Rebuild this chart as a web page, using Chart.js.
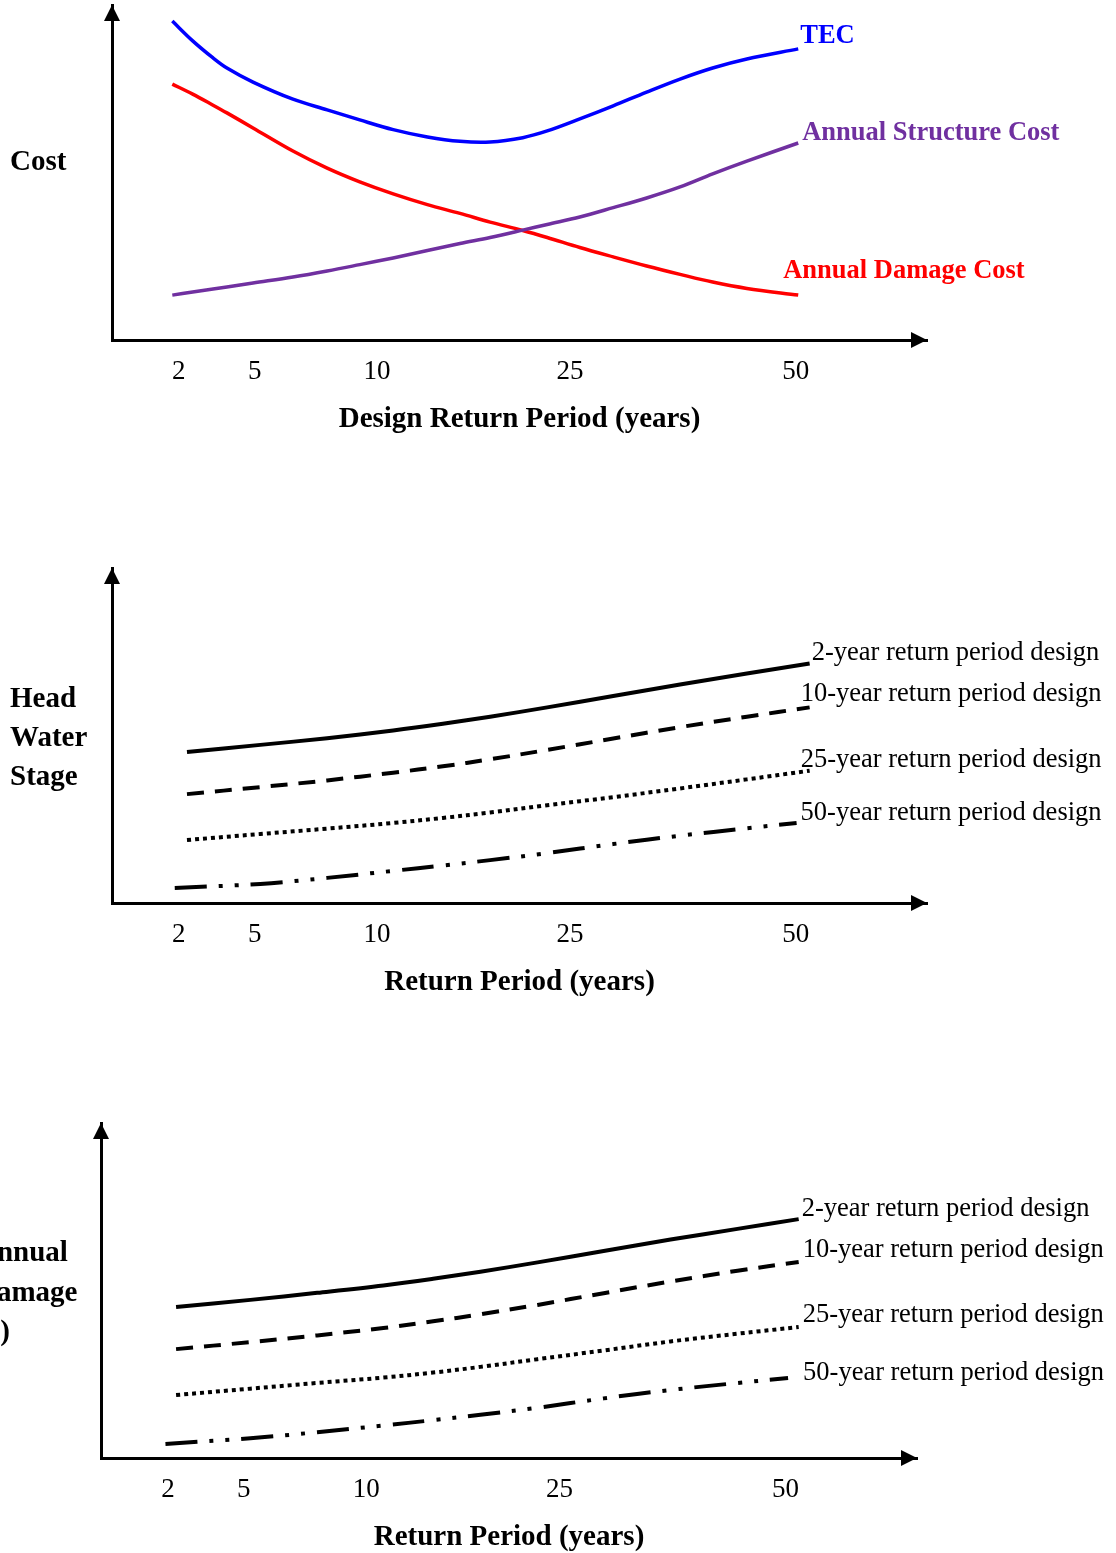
<!DOCTYPE html>
<html>
<head>
<meta charset="utf-8">
<script src="https://cdn.jsdelivr.net/npm/chart.js@4.4.1/dist/chart.umd.min.js"></script>
<style>
  html, body { margin: 0; padding: 0; background: #fff; overflow: hidden; }
  body { width: 1116px; height: 1553px; position: relative; font-family: "Liberation Serif", "Times New Roman", serif; }
  .panel { position: absolute; left: 0; width: 1116px; }
  .panel canvas { display: block; }
  .ylab { position: absolute; font-weight: bold; font-size: 29px; line-height: 39px; color: #000; white-space: nowrap; }
</style>
</head>
<body>
<div class="panel" style="top:0;height:435px"><canvas id="costChart" width="1116" height="435"></canvas></div>
<div class="panel" style="top:560px;height:438px"><canvas id="stageChart" width="1116" height="438"></canvas></div>
<div class="panel" style="top:1116px;height:437px"><canvas id="damageChart" width="1116" height="437"></canvas></div>

<div class="ylab" style="left:10px;top:141px">Cost</div>
<div class="ylab" style="left:10px;top:678px">Head<br>Water<br>Stage</div>
<div class="ylab" style="left:-24px;top:1232px;line-height:39.5px">Annual<br>Damage<br>($)</div>

<script>
// x axis is schematic: return periods sit at fixed spots along the axis (0-100 units)
const periodTicks = ['2', '5', '10', '25', '50'];
const periodAt = [8.2, 17.5, 32.5, 56.2, 83.9];

// top chart: cost vs design return period
const costX = [7.4, 9.9, 12.4, 14.1, 17.3, 22.2, 26.4, 30.4, 34.5, 38.7, 42.7, 46.4, 50.4, 53.4, 57.4, 61.5, 65.6, 69.7, 73.7, 77.9, 84.2];
const tecCost = [95.2, 89.3, 84.2, 81.2, 77.0, 71.9, 68.7, 65.7, 62.8, 60.6, 59.3, 59.1, 60.4, 62.4, 66.0, 69.9, 74.0, 77.9, 81.2, 83.9, 86.9];
const structureCost = [13.4, 14.3, 15.2, 15.8, 17.0, 18.8, 20.6, 22.5, 24.5, 26.7, 28.8, 30.6, 32.8, 34.5, 36.7, 39.5, 42.4, 45.7, 49.6, 53.4, 58.8];
const damageCost = [76.4, 73.4, 70.1, 67.8, 63.3, 56.4, 51.3, 47.2, 43.6, 40.4, 37.8, 35.2, 32.7, 30.6, 27.6, 24.8, 22.1, 19.6, 17.3, 15.4, 13.4];

// middle chart: head water stage vs return period
const stageX = [9.2, 18.2, 26.4, 34.5, 40.6, 46.4, 53.4, 61.5, 69.7, 77.9, 85.6];
const stage50X = [7.7, 18.2, 26.4, 34.5, 40.6, 46.4, 53.4, 61.5, 69.7, 77.9, 84.0];
const stage2yr = [45.1, 47.2, 49.2, 51.5, 53.5, 55.6, 58.4, 61.8, 65.2, 68.5, 71.5];
const stage10yr = [32.5, 34.6, 36.6, 38.9, 40.8, 42.9, 45.7, 49.1, 52.5, 55.6, 58.4];
const stage25yr = [18.8, 20.6, 22.2, 23.9, 25.4, 27.0, 29.2, 31.6, 34.2, 36.9, 39.5];
const stage50yr = [4.5, 5.7, 7.5, 9.6, 11.2, 12.8, 14.9, 17.6, 20.1, 22.3, 23.9];

// bottom chart: annual damage vs return period
const damageX = [9.2, 18.3, 26.5, 34.6, 40.7, 46.5, 53.5, 61.6, 69.8, 78.0, 85.5];
const damage50X = [7.9, 18.3, 26.5, 34.6, 40.7, 46.5, 53.5, 61.6, 69.8, 78.0, 84.2];
const damage2yr = [45.1, 47.2, 49.3, 51.5, 53.5, 55.6, 58.4, 61.8, 65.2, 68.4, 71.3];
const damage10yr = [32.5, 34.6, 36.6, 38.8, 40.8, 42.9, 45.7, 49.2, 52.7, 55.9, 58.5];
const damage25yr = [18.8, 20.7, 22.4, 24.0, 25.5, 27.2, 29.5, 32.1, 34.8, 37.1, 39.1];
const damage50yr = [4.2, 5.9, 7.7, 9.7, 11.3, 12.9, 15.0, 17.8, 20.3, 22.4, 23.9];

const serif = '"Liberation Serif", "Times New Roman", serif';
Chart.defaults.font.family = serif;
Chart.defaults.color = '#000';

const DASHED = [17, 11];
const DOTTED = [4, 4];
const DASH_DOT_DOT = [32, 12, 4, 12, 4, 12];

// Arrow heads at the ends of both axes
const axisArrows = {
    id: 'axisArrows',
    afterDraw(chart) {
        const { ctx, chartArea: a } = chart;
        ctx.save();
        ctx.fillStyle = '#000';
        ctx.beginPath();
        ctx.moveTo(a.left, a.top);
        ctx.lineTo(a.left - 8, a.top + 16);
        ctx.lineTo(a.left + 8, a.top + 16);
        ctx.closePath();
        ctx.moveTo(a.right, a.bottom);
        ctx.lineTo(a.right - 16, a.bottom - 8);
        ctx.lineTo(a.right - 16, a.bottom + 8);
        ctx.closePath();
        ctx.fill();
        ctx.restore();
    }
};

// Series name written next to the last point of each line
const seriesLabels = {
    id: 'seriesLabels',
    afterDatasetsDraw(chart, args, opts) {
        const ctx = chart.ctx;
        ctx.save();
        ctx.font = opts.font;
        ctx.textBaseline = 'middle';
        ctx.textAlign = 'left';
        chart.data.datasets.forEach((ds, i) => {
            const pts = chart.getDatasetMeta(i).data;
            const end = pts[pts.length - 1];
            ctx.fillStyle = ds.borderColor;
            ctx.fillText(ds.label, end.x + ds.labelShift[0], end.y + ds.labelShift[1]);
        });
        ctx.restore();
    }
};

function line(label, xs, ys, color, dash, width, shift) {
    return {
        label: label,
        data: xs.map((x, i) => ({ x: x, y: ys[i] })),
        borderColor: color,
        borderWidth: width,
        borderDash: dash,
        borderCapStyle: 'butt',
        pointRadius: 0,
        tension: 0.35,
        fill: false,
        clip: false,
        labelShift: shift
    };
}

function makeChart(id, datasets, pad, xTitle, labelFont) {
    return new Chart(document.getElementById(id), {
        type: 'line',
        data: { datasets: datasets },
        options: {
            responsive: false,
            animation: false,
            events: [],
            layout: { padding: pad },
            plugins: {
                legend: { display: false },
                tooltip: { enabled: false },
                seriesLabels: { font: labelFont }
            },
            scales: {
                x: {
                    type: 'linear', min: 0, max: 100,
                    grid: { display: false, drawTicks: false },
                    border: { color: '#000', width: 3 },
                    afterFit: s => { s.height = 95; },
                    afterBuildTicks: s => { s.ticks = periodAt.map(v => ({ value: v })); },
                    ticks: {
                        autoSkip: false, maxRotation: 0, padding: 16, color: '#000',
                        font: { size: 27 },
                        callback: (v, i) => periodTicks[i]
                    },
                    title: {
                        display: true, text: xTitle, color: '#000',
                        font: { size: 29, weight: 'bold', lineHeight: 1.1 },
                        padding: { top: 0, bottom: 0 }
                    }
                },
                y: {
                    type: 'linear', min: 0, max: 100,
                    grid: { display: false, drawTicks: false },
                    border: { color: '#000', width: 3 },
                    ticks: { display: false },
                    afterFit: s => { s.width = 0; }
                }
            }
        },
        plugins: [axisArrows, seriesLabels]
    });
}

const boldLabel = 'bold 26.5px ' + serif;
const plainLabel = '26.5px ' + serif;

makeChart('costChart', [
    line('TEC', costX, tecCost, '#0000FF', [], 3.5, [2, -13]),
    line('Annual Structure Cost', costX, structureCost, '#7030A0', [], 3.5, [4, -10]),
    line('Annual Damage Cost', costX, damageCost, '#FF0000', [], 3.5, [-15, -24])
], { left: 112, right: 189, top: 5, bottom: 0 }, 'Design Return Period (years)', boldLabel);

makeChart('stageChart', [
    line('2-year return period design', stageX, stage2yr, '#000', [], 4, [2, -10]),
    line('10-year return period design', stageX, stage10yr, '#000', DASHED, 4, [-9, -13]),
    line('25-year return period design', stageX, stage25yr, '#000', DOTTED, 4, [-9, -11]),
    line('50-year return period design', stage50X, stage50yr, '#000', DASH_DOT_DOT, 4, [4, -10])
], { left: 112, right: 189, top: 8, bottom: 0 }, 'Return Period (years)', plainLabel);

makeChart('damageChart', [
    line('2-year return period design', damageX, damage2yr, '#000', [], 4, [3, -10]),
    line('10-year return period design', damageX, damage10yr, '#000', DASHED, 4, [4, -12]),
    line('25-year return period design', damageX, damage25yr, '#000', DOTTED, 4, [4, -12]),
    line('50-year return period design', damage50X, damage50yr, '#000', DASH_DOT_DOT, 4, [15, -5])
], { left: 101, right: 199, top: 7, bottom: 0 }, 'Return Period (years)', plainLabel);
</script>
</body>
</html>
